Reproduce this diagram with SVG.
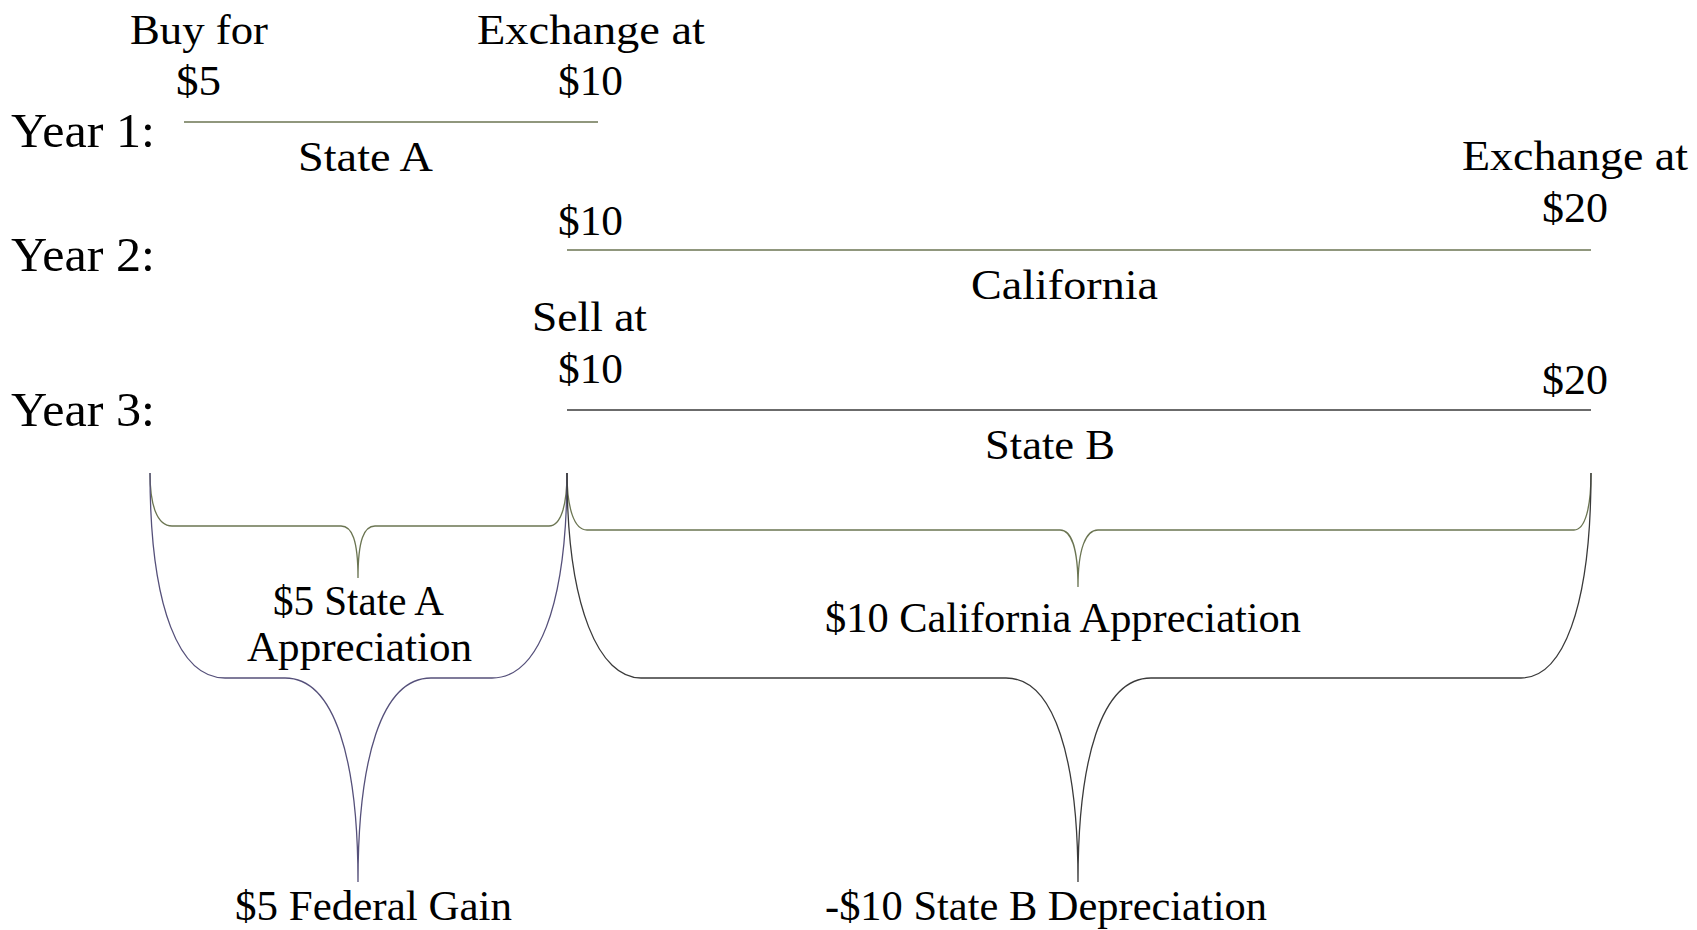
<svg xmlns="http://www.w3.org/2000/svg" width="1697" height="930" viewBox="0 0 1697 930">
<style>
text{font-family:"Liberation Serif","Times New Roman",serif;fill:#000;font-size:43px}
.yr{font-size:49px}
.mid{text-anchor:middle}
.ln{fill:none;stroke-width:1.5}
.olive{stroke:#6b7552}
.dark{stroke:#3a3a3a}
.purple{stroke:#55507a}
.br{fill:none;stroke-width:1.3}
</style>
<rect width="1697" height="930" fill="#fff"/>
<g id="year-labels">
<text class="yr" x="11" y="147" textLength="144" lengthAdjust="spacingAndGlyphs">Year 1:</text>
<text class="yr" x="11" y="271" textLength="144" lengthAdjust="spacingAndGlyphs">Year 2:</text>
<text class="yr" x="11" y="426" textLength="144" lengthAdjust="spacingAndGlyphs">Year 3:</text>
</g>
<g id="year1">
<text x="130" y="44" textLength="138" lengthAdjust="spacingAndGlyphs">Buy for</text>
<text x="176" y="95" textLength="45" lengthAdjust="spacingAndGlyphs">$5</text>
<text x="477" y="44" textLength="228" lengthAdjust="spacingAndGlyphs">Exchange at</text>
<text x="558" y="95" textLength="65" lengthAdjust="spacingAndGlyphs">$10</text>
<text x="298" y="171" textLength="135" lengthAdjust="spacingAndGlyphs">State A</text>
</g>
<g id="year2">
<text x="1462" y="170" textLength="226" lengthAdjust="spacingAndGlyphs">Exchange at</text>
<text x="1542" y="222" textLength="66" lengthAdjust="spacingAndGlyphs">$20</text>
<text x="558" y="235" textLength="65" lengthAdjust="spacingAndGlyphs">$10</text>
<text x="971" y="299" textLength="187" lengthAdjust="spacingAndGlyphs">California</text>
</g>
<g id="year3">
<text x="532" y="331" textLength="115" lengthAdjust="spacingAndGlyphs">Sell at</text>
<text x="558" y="383" textLength="65" lengthAdjust="spacingAndGlyphs">$10</text>
<text x="1542" y="394" textLength="66" lengthAdjust="spacingAndGlyphs">$20</text>
<text x="985" y="459" textLength="130" lengthAdjust="spacingAndGlyphs">State B</text>
</g>
<g id="results">
<text x="273" y="615" textLength="171" lengthAdjust="spacingAndGlyphs">$5 State A</text>
<text x="247" y="661" textLength="225" lengthAdjust="spacingAndGlyphs">Appreciation</text>
<text x="825" y="632" textLength="476" lengthAdjust="spacingAndGlyphs">$10 California Appreciation</text>
<text x="235" y="920" textLength="277" lengthAdjust="spacingAndGlyphs">$5 Federal Gain</text>
<text x="825" y="920" textLength="442" lengthAdjust="spacingAndGlyphs">-$10 State B Depreciation</text>
</g>
<g id="connectors">
<line class="ln olive" x1="184" y1="122" x2="598" y2="122"/>
<line class="ln olive" x1="567" y1="250" x2="1591" y2="250"/>
<line class="ln dark" x1="567" y1="410" x2="1591" y2="410"/>
<path class="br olive" d="M150,473 C150,505 157,526 172,526 L341,526 C352,526 358,540 358,578 C358,540 364,526 375,526 L549,526 C561,526 567,505 567,473"/>
<path class="br olive" d="M567,473 C567,508 574,530 587,530 L1060,530 C1071,530 1078,548 1078,587 C1078,548 1086,530 1098,530 L1574,530 C1585,530 1591,508 1591,473"/>
<path class="br purple" d="M150,473 C150,610 180,678 225,678 L285,678 C335,678 358,760 358,882 C358,760 381,678 431,678 L492,678 C537,678 567,610 567,473"/>
<path class="br dark" d="M567,473 C567,610 600,678 641,678 L1006,678 C1055,678 1078,760 1078,882 C1078,760 1101,678 1151,678 L1521,678 C1562,678 1591,610 1591,473"/>
</g>
</svg>
